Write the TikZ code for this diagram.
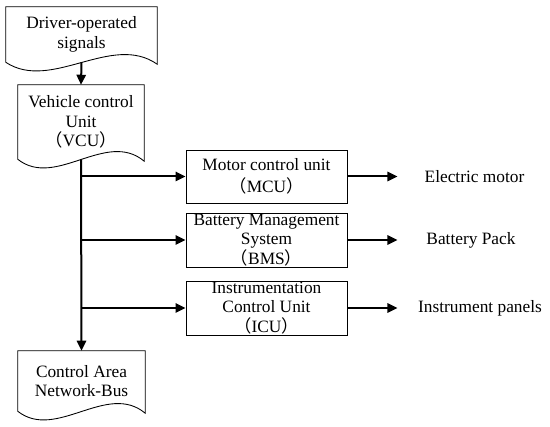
\documentclass[tikz,border=0pt]{standalone}
\usepackage{fontspec}
\setmainfont{Liberation Serif}
\newfontfamily\cjk{Noto Sans CJK SC}
\usetikzlibrary{arrows.meta,calc,shadows}
\newcommand{\fw}[1]{{\cjk #1}}
% document shape: flat top, wavy bottom
\newcommand{\wavybox}[1]{%
  \draw[boxline] (#1.south west) -- (#1.north west) -- (#1.north east) -- ($(#1.south east)+(0,2)$)
    .. controls ($(#1.south west)!0.7!(#1.south east)+(0,-30)$) and ($(#1.south west)!0.3!(#1.south east)+(0,30)$) .. (#1.south west);}
\begin{document}
\begin{tikzpicture}[x=0.75pt,y=-0.75pt,
  font=\fontsize{13}{14.6}\selectfont,
  boxline/.style={line width=0.65pt},
  docnode/.style={align=center,inner sep=0pt},
  unitbox/.style={draw,boxline,fill=white,align=center,inner sep=0pt,minimum width=120.75pt,
    drop shadow={shadow xshift=1pt,shadow yshift=-1pt,fill=blue!30!gray,opacity=0.18}},
  flow/.style={line width=1.5pt,-{Triangle[length=7.5pt,width=7pt]}}]
\useasboundingbox (0,0) rectangle (550,427);

% Document-shaped nodes
\node[docnode,minimum width=113.25pt,minimum height=41.25pt] (drv) at (81.5,34.5) {Driver-operated\\signals};
\node[docnode,minimum width=94.5pt,minimum height=55.5pt] (vcu) at (81,122) {Vehicle control\\Unit\\\fw{（}VCU\fw{）}};
\node[docnode,minimum width=95.25pt,minimum height=45pt] (can) at (81.5,381) {Control Area\\Network-Bus};
\wavybox{drv}
\wavybox{vcu}
\wavybox{can}

% Control units
\node[unitbox,minimum height=39.75pt] (mcu) at (266.5,176.5) {Motor control unit\\[2pt]\fw{（}MCU\fw{）}};
\node[unitbox,minimum height=40.5pt] (bms) at (266.5,240) {Battery Management\\System\\\fw{（}BMS\fw{）}};
\node[unitbox,minimum height=40.5pt] (icu) at (266.5,308) {Instrumentation\\Control Unit\\\fw{（}ICU\fw{）}};

% Controlled parts
\node[inner sep=0pt] (mot) at (474.5,176.5) {Electric motor};
\node[inner sep=0pt] (pack) at (471,240) {Battery Pack};
\node[inner sep=0pt] (pan) at (480,308) {Instrument panels};

% Connections
\coordinate (t1) at (vcu.south |- mcu.west);
\coordinate (t2) at (vcu.south |- bms.west);
\coordinate (t3) at (vcu.south |- icu.west);
\draw[flow] (drv.south) -- (vcu.north);
\draw[flow] (vcu.south) -- (can.north);
\draw[flow] (t1) -- (mcu.west);
\draw[flow] (t2) -- (bms.west);
\draw[flow] (t3) -- (icu.west);
\draw[flow] (mcu.east) -- ++(50,0) coordinate (e1);
\draw[flow] (bms.east) -- ++(50,0) coordinate (e2);
\draw[flow] (icu.east) -- ++(50,0) coordinate (e3);
\end{tikzpicture}
\end{document}
